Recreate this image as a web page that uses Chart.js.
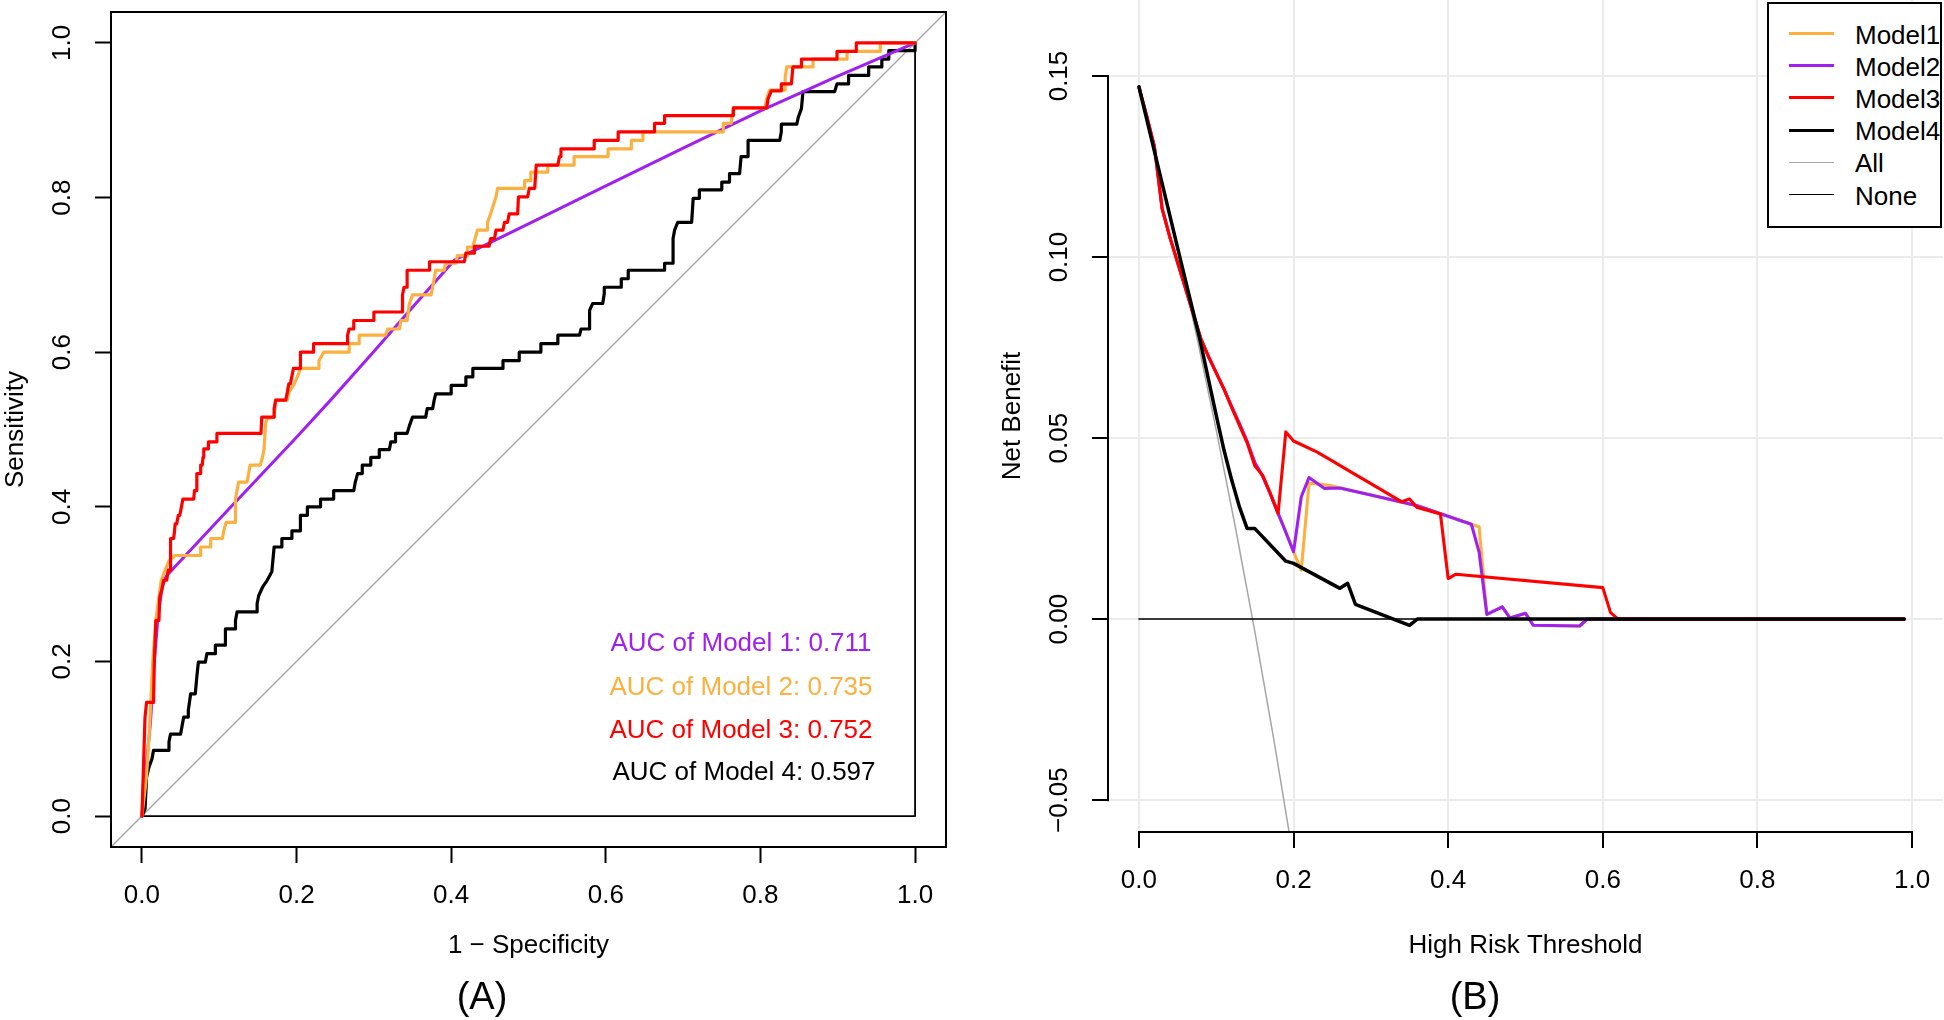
<!DOCTYPE html>
<html>
<head>
<meta charset="utf-8">
<script src="https://cdn.jsdelivr.net/npm/chart.js@4.4.1/dist/chart.umd.min.js"></script>
<style>
html,body{margin:0;padding:0;background:#fff;}
body{width:1944px;height:1020px;overflow:hidden;position:relative;font-family:"Liberation Sans",Arial,sans-serif;color:#000;}
canvas{position:absolute;top:0;}
#c1{left:0;}
#c2{left:970px;}
.auc{position:absolute;white-space:nowrap;transform:translate(-50%,-50%);font-size:26px;}
.panel{position:absolute;white-space:nowrap;transform:translate(-50%,-50%);font-size:38px;}
#legendBox{position:absolute;left:1767px;top:2px;width:175px;height:226px;border:2px solid #000;box-sizing:border-box;background:#fff;}
.lgLine{position:absolute;left:1789px;width:45px;}
.lgText{position:absolute;left:1855px;font-size:26px;white-space:nowrap;transform:translateY(-50%);}
</style>
</head>
<body>
<canvas id="c1" width="970" height="1020"></canvas>
<canvas id="c2" width="974" height="1020"></canvas>
<div id="legendBox"></div>
<div id="overlay"></div>
<script>
// ---------------- DATA ----------------
// ROC panel (A): [1 - specificity, sensitivity]
const rocModel1 = [[0,0],[0.005,0.06],[0.011,0.12],[0.016,0.2],[0.021,0.26],[0.026,0.295],[0.031,0.31],[0.1,0.384],[0.2,0.49],[0.244,0.538],[0.3,0.601],[0.35,0.658],[0.404,0.719],[0.5,0.766],[0.6,0.815],[0.7,0.864],[0.8,0.912],[0.9,0.957],[1,1]];
const rocModel2 = [[0,0],[0.006,0.052],[0.010,0.117],[0.014,0.200],[0.018,0.253],[0.022,0.283],[0.025,0.305],[0.030,0.318],[0.035,0.330],[0.043,0.337],[0.076,0.337],[0.076,0.348],[0.089,0.348],[0.089,0.359],[0.104,0.359],[0.106,0.370],[0.109,0.380],[0.121,0.380],[0.121,0.410],[0.125,0.432],[0.136,0.432],[0.138,0.443],[0.140,0.454],[0.153,0.454],[0.156,0.464],[0.158,0.475],[0.160,0.508],[0.162,0.514],[0.171,0.516],[0.173,0.538],[0.188,0.538],[0.190,0.548],[0.197,0.559],[0.201,0.568],[0.205,0.579],[0.229,0.579],[0.229,0.589],[0.235,0.600],[0.268,0.600],[0.268,0.611],[0.281,0.611],[0.281,0.622],[0.315,0.622],[0.318,0.630],[0.333,0.630],[0.335,0.641],[0.343,0.641],[0.346,0.663],[0.350,0.674],[0.374,0.674],[0.376,0.684],[0.378,0.695],[0.380,0.706],[0.391,0.706],[0.393,0.715],[0.406,0.715],[0.408,0.725],[0.421,0.725],[0.421,0.736],[0.428,0.736],[0.434,0.758],[0.447,0.758],[0.447,0.768],[0.451,0.779],[0.458,0.801],[0.460,0.812],[0.495,0.812],[0.495,0.822],[0.503,0.822],[0.503,0.833],[0.525,0.833],[0.525,0.842],[0.559,0.842],[0.559,0.853],[0.603,0.853],[0.603,0.863],[0.633,0.863],[0.633,0.874],[0.648,0.874],[0.648,0.885],[0.752,0.885],[0.752,0.896],[0.762,0.896],[0.765,0.916],[0.806,0.916],[0.808,0.928],[0.812,0.939],[0.832,0.939],[0.832,0.956],[0.834,0.969],[0.868,0.969],[0.868,0.979],[0.912,0.979],[0.912,0.989],[0.955,0.989],[0.955,1.0],[1,1]];
const rocModel3 = [[0,0],[0.004,0.128],[0.006,0.147],[0.015,0.147],[0.016,0.199],[0.018,0.253],[0.022,0.253],[0.023,0.283],[0.026,0.294],[0.028,0.305],[0.032,0.305],[0.034,0.318],[0.037,0.318],[0.037,0.359],[0.041,0.359],[0.042,0.367],[0.043,0.378],[0.045,0.378],[0.047,0.389],[0.049,0.389],[0.053,0.410],[0.067,0.410],[0.068,0.421],[0.070,0.421],[0.071,0.443],[0.076,0.443],[0.076,0.454],[0.078,0.454],[0.079,0.464],[0.080,0.475],[0.086,0.475],[0.086,0.484],[0.097,0.484],[0.097,0.495],[0.154,0.495],[0.155,0.516],[0.171,0.516],[0.171,0.527],[0.173,0.538],[0.186,0.538],[0.188,0.548],[0.190,0.559],[0.192,0.559],[0.196,0.579],[0.205,0.579],[0.205,0.600],[0.222,0.600],[0.222,0.611],[0.266,0.611],[0.266,0.622],[0.268,0.630],[0.274,0.630],[0.274,0.641],[0.300,0.641],[0.300,0.652],[0.337,0.652],[0.337,0.674],[0.339,0.684],[0.343,0.684],[0.343,0.706],[0.372,0.706],[0.372,0.717],[0.417,0.717],[0.419,0.728],[0.430,0.728],[0.430,0.737],[0.449,0.737],[0.451,0.747],[0.456,0.747],[0.458,0.758],[0.467,0.758],[0.469,0.768],[0.473,0.768],[0.475,0.779],[0.486,0.779],[0.487,0.801],[0.499,0.801],[0.501,0.812],[0.508,0.812],[0.510,0.842],[0.538,0.842],[0.540,0.853],[0.542,0.853],[0.542,0.863],[0.585,0.863],[0.585,0.874],[0.616,0.874],[0.616,0.885],[0.663,0.885],[0.663,0.896],[0.676,0.896],[0.676,0.906],[0.765,0.906],[0.765,0.916],[0.808,0.916],[0.810,0.928],[0.814,0.938],[0.827,0.938],[0.827,0.947],[0.840,0.947],[0.842,0.969],[0.853,0.969],[0.853,0.979],[0.899,0.979],[0.899,0.989],[0.924,0.989],[0.924,1.0],[1.0,1.0]];
const rocModel4 = [[0,0],[0.004,0.009],[0.006,0.050],[0.009,0.063],[0.013,0.074],[0.015,0.085],[0.035,0.085],[0.035,0.096],[0.037,0.106],[0.050,0.106],[0.052,0.117],[0.054,0.128],[0.060,0.128],[0.060,0.137],[0.063,0.158],[0.069,0.158],[0.071,0.180],[0.073,0.199],[0.082,0.199],[0.084,0.210],[0.095,0.210],[0.095,0.221],[0.108,0.221],[0.108,0.242],[0.121,0.242],[0.121,0.253],[0.123,0.264],[0.149,0.264],[0.149,0.275],[0.151,0.285],[0.156,0.296],[0.162,0.305],[0.168,0.316],[0.171,0.348],[0.181,0.348],[0.181,0.359],[0.194,0.359],[0.194,0.369],[0.205,0.369],[0.205,0.389],[0.214,0.389],[0.214,0.400],[0.231,0.400],[0.231,0.410],[0.248,0.410],[0.248,0.421],[0.274,0.421],[0.276,0.432],[0.279,0.443],[0.285,0.443],[0.285,0.454],[0.296,0.454],[0.296,0.464],[0.307,0.464],[0.307,0.474],[0.320,0.474],[0.322,0.484],[0.328,0.484],[0.328,0.495],[0.343,0.495],[0.346,0.505],[0.350,0.516],[0.367,0.516],[0.369,0.527],[0.376,0.527],[0.378,0.538],[0.380,0.546],[0.400,0.546],[0.400,0.557],[0.419,0.557],[0.419,0.568],[0.428,0.568],[0.428,0.579],[0.467,0.579],[0.467,0.589],[0.488,0.589],[0.488,0.600],[0.516,0.600],[0.516,0.611],[0.538,0.611],[0.538,0.622],[0.566,0.622],[0.568,0.630],[0.579,0.630],[0.579,0.654],[0.583,0.663],[0.596,0.663],[0.598,0.676],[0.598,0.684],[0.620,0.684],[0.620,0.695],[0.629,0.695],[0.629,0.706],[0.676,0.706],[0.676,0.715],[0.687,0.715],[0.687,0.747],[0.689,0.758],[0.693,0.768],[0.711,0.768],[0.713,0.799],[0.721,0.799],[0.721,0.810],[0.750,0.810],[0.750,0.820],[0.760,0.820],[0.760,0.831],[0.773,0.831],[0.775,0.853],[0.784,0.853],[0.784,0.874],[0.825,0.874],[0.827,0.885],[0.827,0.895],[0.847,0.895],[0.849,0.904],[0.853,0.915],[0.855,0.937],[0.896,0.937],[0.899,0.947],[0.914,0.947],[0.914,0.958],[0.940,0.958],[0.940,0.969],[0.957,0.969],[0.957,0.979],[0.966,0.979],[0.966,0.990],[1.0,0.990],[1.0,1.0]];
const rocReference = [[-0.04,-0.04],[1.04,1.04]];
const rocFrame = [[0,0],[1,0],[1,1]];
const rocTicks = [0,0.2,0.4,0.6,0.8,1.0];
const rocTickLabels = ['0.0','0.2','0.4','0.6','0.8','1.0'];
const aucNames = ['Model 1','Model 2','Model 3','Model 4'];
const aucValues = ['0.711','0.735','0.752','0.597'];

// DCA panel (B): [threshold, net benefit]
const dcaModel1 = [[0,0.147],[0.01,0.139],[0.02,0.1305],[0.03,0.1134],[0.04,0.1055],[0.05,0.0985],[0.06,0.0915],[0.07,0.0845],[0.08,0.0775],[0.09,0.0725],[0.1,0.068],[0.11,0.0635],[0.12,0.0587],[0.13,0.054],[0.14,0.049],[0.15,0.0432],[0.16,0.0395],[0.17,0.0345],[0.18,0.0292],[0.19,0.024],[0.2,0.0186],[0.21,0.0135],[0.22,0.0375],[0.23,0.0374],[0.25,0.0368],[0.26,0.0362],[0.3,0.0343],[0.36,0.0313],[0.43,0.0262],[0.44,0.0255],[0.45,0.0013],[0.47,0.0034],[0.48,0.0003],[0.5,0.0016],[0.51,-0.0017],[0.57,-0.0019],[0.58,0],[0.99,0]];
const dcaModel2 = [[0,0.147],[0.01,0.139],[0.02,0.1305],[0.03,0.1134],[0.04,0.1055],[0.05,0.0985],[0.06,0.0915],[0.07,0.0845],[0.08,0.0775],[0.09,0.0725],[0.1,0.068],[0.11,0.0635],[0.12,0.0587],[0.13,0.054],[0.14,0.049],[0.15,0.0432],[0.16,0.0395],[0.17,0.0345],[0.18,0.0292],[0.19,0.024],[0.2,0.0186],[0.21,0.0338],[0.22,0.0391],[0.23,0.0376],[0.24,0.0361],[0.26,0.0362],[0.3,0.0343],[0.36,0.0313],[0.43,0.0262],[0.44,0.0185],[0.45,0.0013],[0.47,0.0034],[0.48,0.0003],[0.5,0.0016],[0.51,-0.0017],[0.57,-0.0019],[0.58,0],[0.99,0]];
const dcaModel3 = [[0,0.147],[0.01,0.139],[0.02,0.1305],[0.03,0.1134],[0.04,0.1055],[0.05,0.0985],[0.06,0.0915],[0.07,0.0845],[0.08,0.0775],[0.09,0.0725],[0.1,0.068],[0.11,0.0635],[0.12,0.0584],[0.13,0.0535],[0.14,0.0487],[0.15,0.0423],[0.16,0.0397],[0.17,0.0347],[0.18,0.0292],[0.19,0.0517],[0.2,0.0492],[0.23,0.0462],[0.25,0.0437],[0.28,0.0399],[0.3,0.0374],[0.34,0.0324],[0.35,0.0332],[0.36,0.0308],[0.39,0.029],[0.4,0.0112],[0.41,0.0124],[0.6,0.0087],[0.61,0.0018],[0.62,0],[0.99,0]];
const dcaModel4 = [[0,0.147],[0.054,0.099],[0.078,0.078],[0.1,0.0563],[0.11,0.0467],[0.12,0.0384],[0.13,0.031],[0.14,0.025],[0.15,0.025],[0.19,0.016],[0.2,0.0154],[0.26,0.0085],[0.27,0.0099],[0.28,0.0041],[0.35,-0.0017],[0.36,0],[0.99,0]];
const dcaAll = [[0,0.147],[0.025,0.1251],[0.05,0.1021],[0.075,0.0778],[0.1,0.0522],[0.125,0.0251],[0.15,-0.0035],[0.175,-0.0339],[0.2,-0.0663]];
const dcaNone = [[0,0],[0.99,0]];
const dcaXTicks = [0,0.2,0.4,0.6,0.8,1.0];
const dcaXTickLabels = ['0.0','0.2','0.4','0.6','0.8','1.0'];
const dcaYTicks = [-0.05,0,0.05,0.10,0.15];
const dcaYTickLabels = ['\u22120.05','0.00','0.05','0.10','0.15'];
const dcaLegendLabels = ['Model1','Model2','Model3','Model4','All','None'];

// ---------------- STYLE ----------------
const FONT = '"Liberation Sans", Arial, sans-serif';
const C_ORANGE = '#FBB040', C_PURPLE = '#A020F0', C_RED = '#FF0000', C_BLACK = '#000000', C_GRAY = '#A6A6A6';
Chart.defaults.font.family = FONT;
Chart.defaults.color = '#000';

const pts = arr => arr.map(p => ({x: p[0], y: p[1]}));
const zeroPad = s => { s.paddingLeft = 0; s.paddingRight = 0; s.paddingTop = 0; s.paddingBottom = 0; };
const line = (label, data, color, width, order) => ({
  label, data: pts(data), borderColor: color, backgroundColor: color, borderWidth: width,
  pointRadius: 0, pointHoverRadius: 0, tension: 0, fill: false, showLine: true, order,
  borderJoinStyle: 'round', borderCapStyle: 'round'
});

// ---------------- PANEL A ----------------
const boxPlugin = {
  id: 'boxPlugin',
  afterDatasetsDraw(chart) {
    const {ctx, chartArea: a} = chart;
    ctx.save(); ctx.strokeStyle = '#000'; ctx.lineWidth = 2;
    ctx.strokeRect(a.left, a.top, a.right - a.left, a.bottom - a.top);
    ctx.restore();
  }
};
new Chart(document.getElementById('c1'), {
  type: 'scatter',
  data: { datasets: [
    line('Model 3', rocModel3, C_RED, 3.2, 1),
    line('Model 2', rocModel2, C_ORANGE, 3.2, 2),
    line('Model 1', rocModel1, C_PURPLE, 3.0, 3),
    line('Model 4', rocModel4, C_BLACK, 3.2, 4),
    line('frame', rocFrame, C_BLACK, 1.8, 5),
    line('reference', rocReference, C_GRAY, 1.4, 6)
  ]},
  options: {
    responsive: false, animation: false, devicePixelRatio: 1,
    layout: { autoPadding: false, padding: {left: 0, top: 12, right: 24, bottom: 0} },
    plugins: { legend: {display: false}, tooltip: {enabled: false} },
    events: [],
    scales: {
      x: {
        type: 'linear', position: 'bottom', min: -0.04, max: 1.04,
        afterBuildTicks: s => { s.ticks = rocTicks.map(v => ({value: v})); },
        afterFit: s => { s.height = 173; zeroPad(s); },
        border: {display: false},
        grid: {drawOnChartArea: false, drawTicks: true, tickLength: 16, tickWidth: 2, tickColor: '#000'},
        ticks: {padding: 17, autoSkip: false, maxRotation: 0, minRotation: 0, color: '#000', font: {size: 26, family: FONT},
                callback: (v, i) => rocTickLabels[i]},
        title: {display: true, text: '1 \u2212 Specificity', color: '#000', font: {size: 26, family: FONT}, padding: {top: 0, bottom: 59}}
      },
      y: {
        type: 'linear', position: 'left', min: -0.04, max: 1.04,
        afterBuildTicks: s => { s.ticks = rocTicks.map(v => ({value: v})); },
        afterFit: s => { s.width = 111; zeroPad(s); },
        border: {display: false},
        grid: {drawOnChartArea: false, drawTicks: true, tickLength: 16, tickWidth: 2, tickColor: '#000'},
        ticks: {padding: 14, autoSkip: false, minRotation: 90, maxRotation: 90, crossAlign: 'center', color: '#000', font: {size: 26, family: FONT},
                callback: (v, i) => rocTickLabels[i]},
        title: {display: true, text: 'Sensitivity', color: '#000', font: {size: 26, family: FONT}, padding: {top: 0, bottom: 0}}
      }
    }
  },
  plugins: [boxPlugin]
});

// ---------------- PANEL B ----------------
const rAxes = {
  id: 'rAxes',
  afterDraw(chart) {
    const {ctx, chartArea: a, scales: {x, y}} = chart;
    ctx.save(); ctx.strokeStyle = '#000'; ctx.lineWidth = 2;
    ctx.beginPath();
    ctx.moveTo(x.getPixelForValue(dcaXTicks[0]) - 1, a.bottom);
    ctx.lineTo(x.getPixelForValue(dcaXTicks[dcaXTicks.length - 1]) + 1, a.bottom);
    ctx.moveTo(a.left, y.getPixelForValue(dcaYTicks[0]) + 1);
    ctx.lineTo(a.left, y.getPixelForValue(dcaYTicks[dcaYTicks.length - 1]) - 1);
    ctx.stroke(); ctx.restore();
  }
};
new Chart(document.getElementById('c2'), {
  type: 'scatter',
  data: { datasets: [
    line('Model4', dcaModel4, C_BLACK, 3.5, 1),
    line('Model3', dcaModel3, C_RED, 3.1, 2),
    line('Model2', dcaModel2, C_PURPLE, 3.1, 3),
    line('Model1', dcaModel1, C_ORANGE, 3.1, 4),
    line('None', dcaNone, C_BLACK, 1.5, 5),
    line('All', dcaAll, C_GRAY, 1.5, 6)
  ]},
  options: {
    responsive: false, animation: false, devicePixelRatio: 1,
    layout: { autoPadding: false, padding: {left: 0, top: 0, right: 1, bottom: 0} },
    plugins: { legend: {display: false}, tooltip: {enabled: false} },
    events: [],
    scales: {
      x: {
        type: 'linear', position: 'bottom', min: -0.04, max: 1.04,
        afterBuildTicks: s => { s.ticks = dcaXTicks.map(v => ({value: v})); },
        afterFit: s => { s.height = 188; zeroPad(s); },
        border: {display: false},
        grid: {drawOnChartArea: true, color: '#EBEBEB', lineWidth: 2, drawTicks: true, tickLength: 16, tickWidth: 2, tickColor: '#000'},
        ticks: {padding: 17, autoSkip: false, maxRotation: 0, minRotation: 0, color: '#000', font: {size: 26, family: FONT},
                callback: (v, i) => dcaXTickLabels[i]},
        title: {display: true, text: 'High Risk Threshold', color: '#000', font: {size: 26, family: FONT}, padding: {top: 0, bottom: 59}}
      },
      y: {
        type: 'linear', position: 'left', min: -0.0588, max: 0.171,
        afterBuildTicks: s => { s.ticks = dcaYTicks.map(v => ({value: v})); },
        afterFit: s => { s.width = 138; zeroPad(s); },
        border: {display: false},
        grid: {drawOnChartArea: true, color: '#EBEBEB', lineWidth: 2, drawTicks: true, tickLength: 16, tickWidth: 2, tickColor: '#000'},
        ticks: {padding: -1, autoSkip: false, minRotation: 90, maxRotation: 90, crossAlign: 'center', color: '#000', font: {size: 26, family: FONT},
                callback: (v, i) => dcaYTickLabels[i]},
        title: {display: true, text: 'Net Benefit', color: '#000', font: {size: 26, family: FONT}, padding: {top: 27, bottom: 0}}
      }
    }
  },
  plugins: [rAxes]
});

// ---------------- TEXT OVERLAYS ----------------
const ov = document.getElementById('overlay');
const aucColors = [C_PURPLE, C_ORANGE, C_RED, C_BLACK];
const aucPos = [[741, 642], [741, 686], [741, 729], [744, 771]];
aucNames.forEach((n, i) => {
  const d = document.createElement('div');
  d.className = 'auc';
  d.style.left = aucPos[i][0] + 'px'; d.style.top = aucPos[i][1] + 'px'; d.style.color = aucColors[i];
  d.textContent = 'AUC of ' + n + ': ' + aucValues[i];
  ov.appendChild(d);
});
[['(A)', 482, 996], ['(B)', 1475, 996]].forEach(p => {
  const d = document.createElement('div');
  d.className = 'panel'; d.textContent = p[0];
  d.style.left = p[1] + 'px'; d.style.top = p[2] + 'px';
  ov.appendChild(d);
});
const lgColors = [C_ORANGE, C_PURPLE, C_RED, C_BLACK, C_GRAY, C_BLACK];
const lgWidths = [3, 3, 3, 3, 1.5, 1.5];
dcaLegendLabels.forEach((lab, i) => {
  const yc = 33.5 + 32.2 * i;
  const l = document.createElement('div');
  l.className = 'lgLine';
  l.style.top = (yc - lgWidths[i] / 2) + 'px'; l.style.height = lgWidths[i] + 'px'; l.style.background = lgColors[i];
  ov.appendChild(l);
  const t = document.createElement('div');
  t.className = 'lgText'; t.textContent = lab; t.style.top = (yc + 1) + 'px';
  ov.appendChild(t);
});
</script>
</body>
</html>
